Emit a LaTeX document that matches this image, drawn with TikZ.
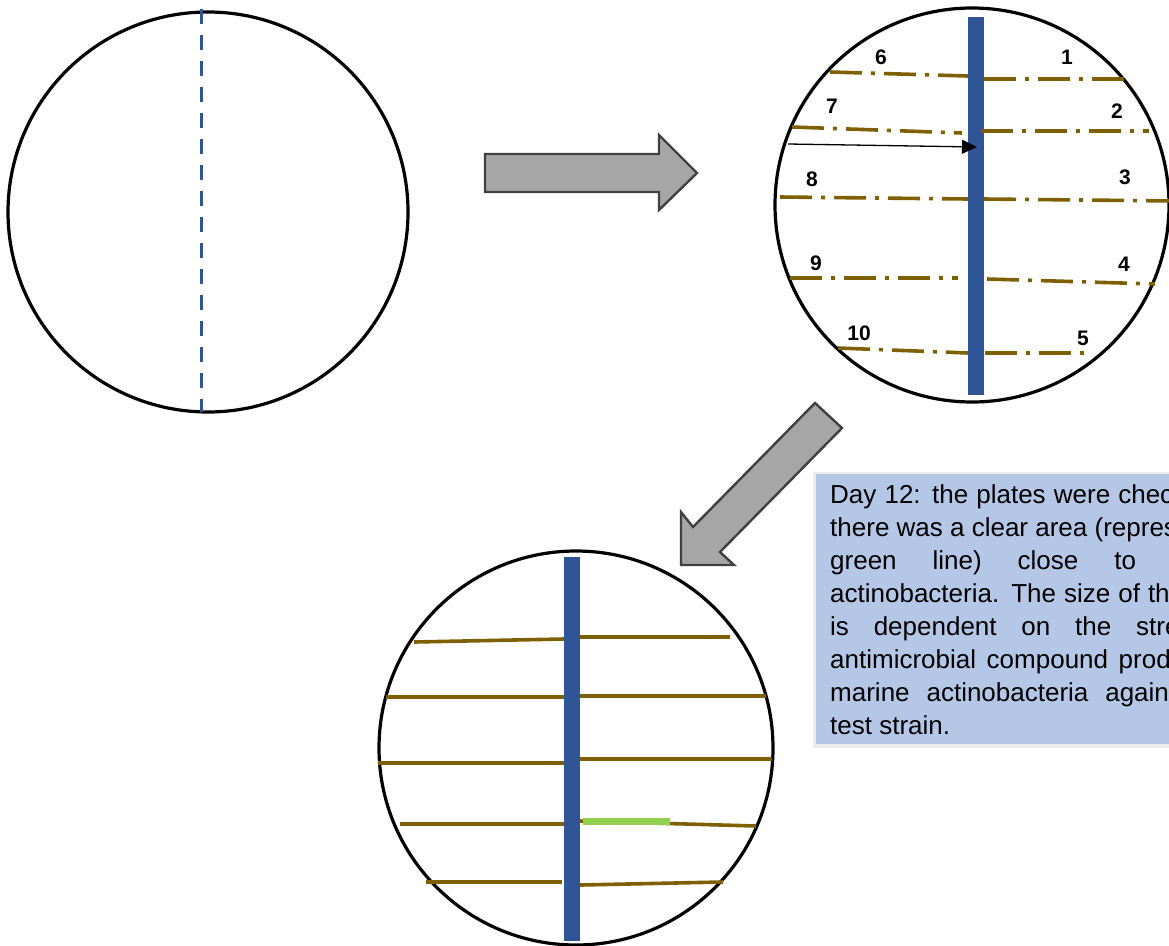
\documentclass[tikz,border=0pt]{standalone}
\usepackage{fontspec}
\setmainfont{Liberation Sans}
\usetikzlibrary{arrows.meta}
\definecolor{barblue}{HTML}{2F5597}
\definecolor{streak}{HTML}{7F6000}
\definecolor{clear}{HTML}{92D050}
\definecolor{boxblue}{HTML}{B4C7E7}
\definecolor{arrowgray}{HTML}{A6A6A6}
\definecolor{arrowedge}{HTML}{404040}
\hbadness=10000
\hfuzz=1000pt
\tikzset{
  plate/.style={draw=black, line width=3.2pt},
  bar/.style={fill=barblue, draw=none},
  dotstreak/.style={draw=streak, line width=3.6pt, dash pattern=on 32pt off 9pt on 4pt off 9pt},
  streakline/.style={draw=streak, line width=3.6pt},
  blockarrow/.style={fill=arrowgray, draw=arrowedge, line width=2.4pt, line join=miter},
  numlabel/.style={font=\fontsize{21}{24}\selectfont\bfseries, inner sep=0pt},
  boxtext/.style={anchor=base west, inner sep=0pt, font=\fontsize{26}{33}\selectfont}
}
\begin{document}
\begin{tikzpicture}[x=1pt,y=-1pt]
\useasboundingbox (0,0) rectangle (1169,945);
\begin{scope}
\clip (0,0) rectangle (1169,945);

% ---- plate 1 ----
\draw[plate] (208,212) circle[radius=200];
\coordinate (d1) at (201,9);
\coordinate (d2) at (201,412);
\draw[draw=barblue, line width=3pt, dash pattern=on 15pt off 11pt] (d1) -- (d2);

% ---- block arrow right ----
\draw[blockarrow] (485,154) -- (659,154) -- (659,135) -- (697,173) -- (659,210) -- (659,192) -- (485,192) -- cycle;

% ---- plate 2 ----
\draw[plate] (972,205) circle[radius=197];
\fill[bar] (968,17) rectangle (984,395);
\draw[dotstreak] (830,72) -- (968,76);
\draw[dotstreak] (984,79) -- (1124,79);
\draw[dotstreak] (792,127) -- (962,133);
\draw[dotstreak] (981,131) -- (1149,131);
\draw[dotstreak] (780,197) -- (968,199);
\draw[dotstreak] (984,199) -- (1178,201);
\draw[dotstreak] (790,278) -- (958,278);
\draw[dotstreak] (987,279) -- (1155,284);
\draw[dotstreak] (838,348) -- (968,353);
\draw[dotstreak] (985,353) -- (1092,353);
\coordinate (a1) at (788,144);
\coordinate (a2) at (977,147);
\draw[line width=1.3pt, -{Triangle[length=15pt,width=14pt]}] (a1) -- (a2);
\node[numlabel] (n6) at (881,57) {6};
\node[numlabel] (n1) at (1067,57) {1};
\node[numlabel] (n7) at (832,106) {7};
\node[numlabel] (n2) at (1117,111) {2};
\node[numlabel] (n8) at (812,179) {8};
\node[numlabel] (n3) at (1125,177) {3};
\node[numlabel] (n9) at (816,263) {9};
\node[numlabel] (n4) at (1124,264) {4};
\node[numlabel] (n10) at (859,333) {10};
\node[numlabel] (n5) at (1083,338) {5};

% ---- block arrow diagonal ----
\draw[blockarrow] (815,403) -- (842,428) -- (720,552) -- (734,565) -- (681,565) -- (681,512) -- (693,527) -- cycle;

% ---- text box ----
\fill[black!8] (813,472) rectangle (1175,748);
\fill[boxblue] (816,474) rectangle (1175,744);
\node[boxtext] (t1) at (830,503) {\hbox to 385pt{Day 12: the plates were checked}};
\node[boxtext] (t2) at (830,536) {\hbox{there was a clear area (represented by}};
\node[boxtext] (t3) at (830,569) {\hbox to 378pt{green line) close to the}};
\node[boxtext] (t4) at (830,602) {\hbox to 354pt{actinobacteria. The size of the}};
\node[boxtext] (t5) at (830,635) {\hbox to 400pt{is dependent on the strength}};
\node[boxtext] (t6) at (830,668) {\hbox to 397pt{antimicrobial compound produced}};
\node[boxtext] (t7) at (830,701) {\hbox to 359pt{marine actinobacteria against}};
\node[boxtext] (t8) at (830,734) {\hbox{test strain.}};

% ---- plate 3 ----
\draw[plate] (576,748) circle[radius=197];
\draw[streakline] (414,642) -- (564,639);
\draw[streakline] (580,637) -- (730,637);
\draw[streakline] (386,697) -- (564,697);
\draw[streakline] (580,696) -- (766,696);
\draw[streakline] (378,763) -- (564,763);
\draw[streakline] (580,759) -- (772,759);
\draw[streakline] (400,824) -- (564,824);
\draw[streakline] (580,821) -- (756,826);
\draw[streakline] (426,882) -- (562,882);
\draw[streakline] (580,885) -- (723,882);
\draw[draw=clear, line width=7pt] (583,821) -- (670,821);
\fill[bar] (564,557) rectangle (580,941);
\end{scope}
\end{tikzpicture}
\end{document}
